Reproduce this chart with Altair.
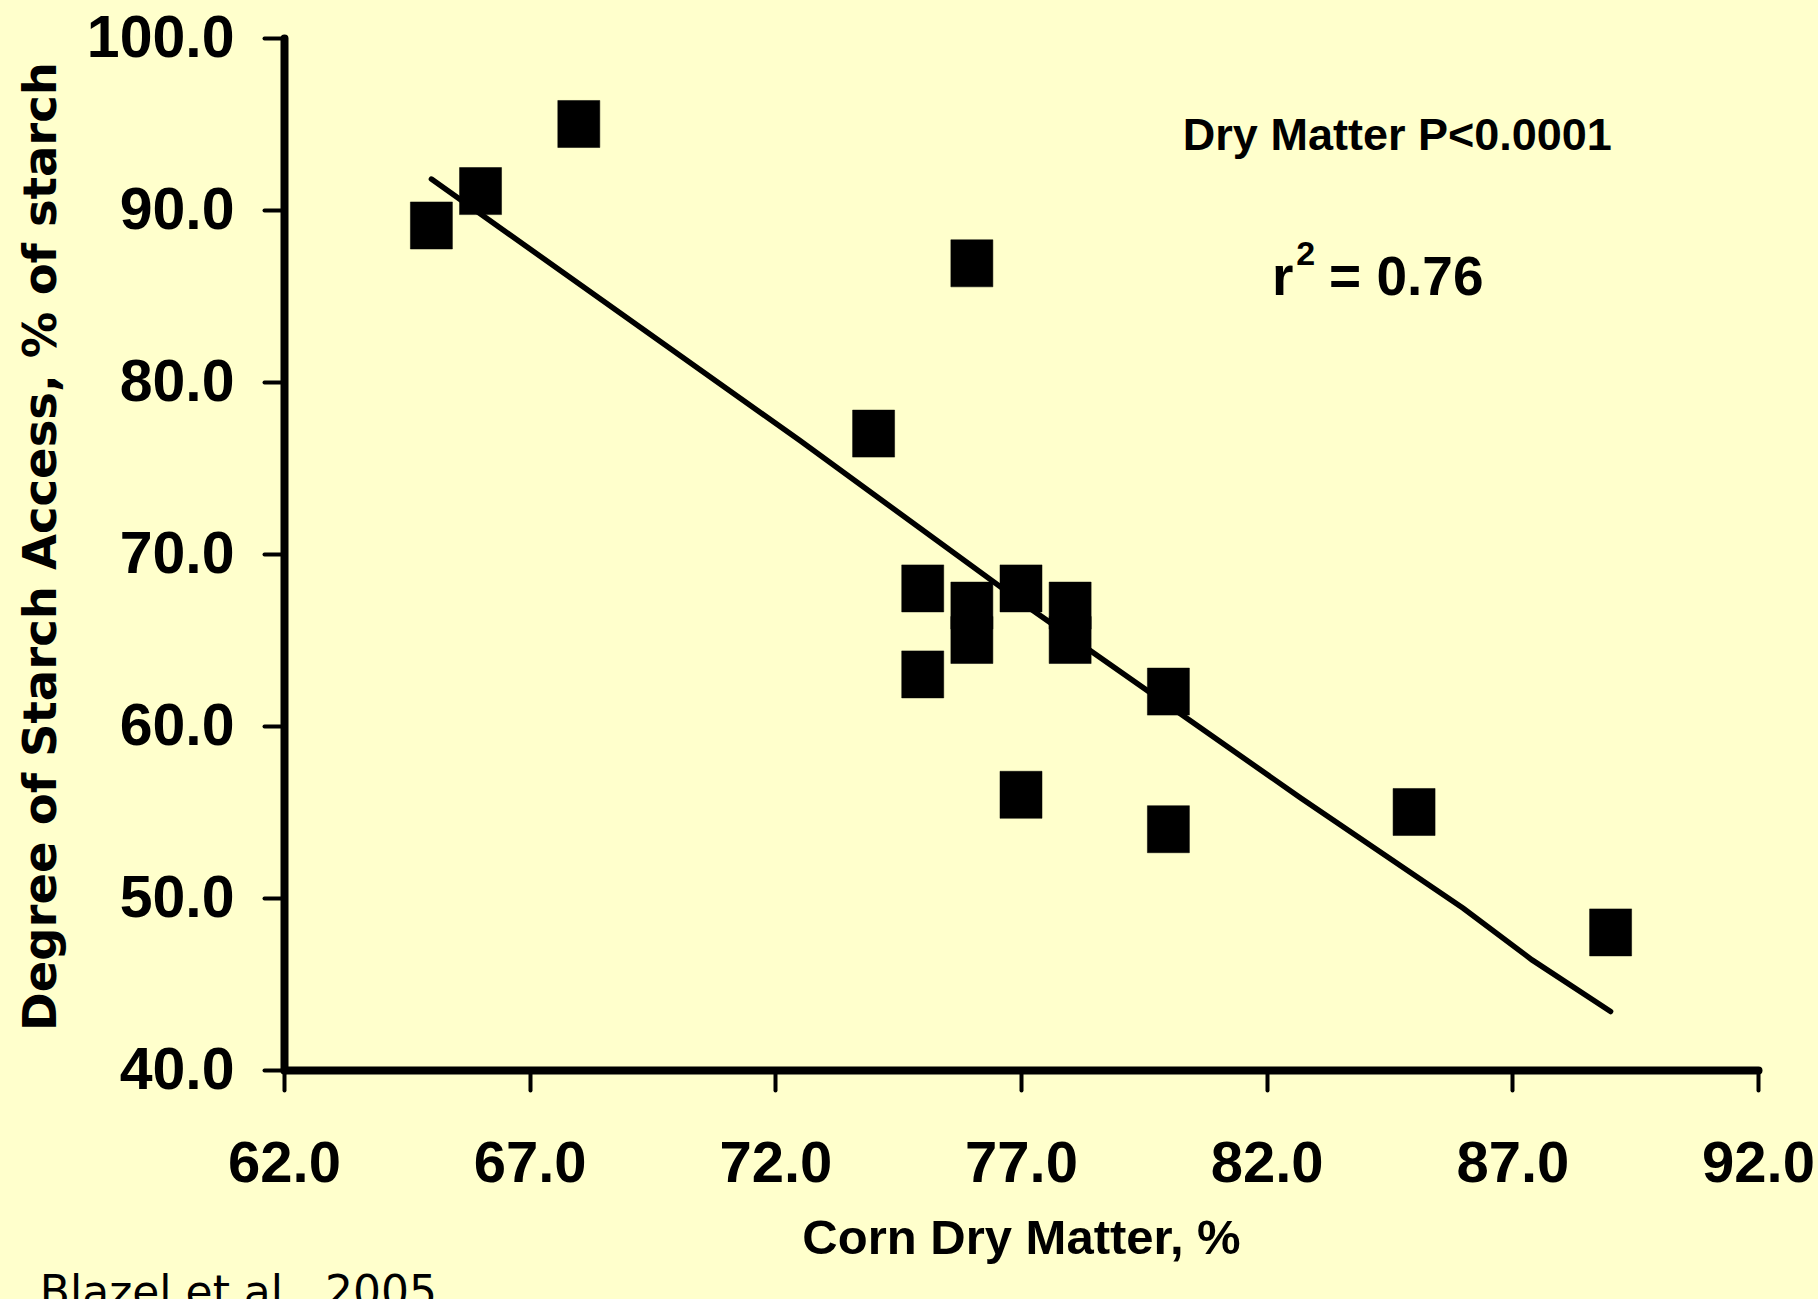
import altair as alt
import pandas as pd

# ---- data ----
dry_matter = [65, 66, 68, 76, 74, 75, 75, 76, 76, 77, 78, 78, 77, 80, 80, 85, 89]
starch_access = [89.1, 91.1, 95.0, 86.9, 77.0, 68.0, 63.0, 67.0, 65.0, 68.0,
                 67.0, 65.0, 56.0, 62.0, 54.0, 55.0, 48.0]

fit_x = [65.0, 72.5, 77.2, 82.7, 86.0, 87.4, 89.0]
fit_y = [91.8, 76.6, 66.8, 55.8, 49.4, 46.4, 43.4]

x_ticks = [62, 67, 72, 77, 82, 87, 92]
y_ticks = [40, 50, 60, 70, 80, 90, 100]

x_title = "Corn Dry Matter, %"
y_title = "Degree of Starch Access, % of starch"
p_text = "Dry Matter P<0.0001"
r_text, r_sup, r_val = "r", "2", "= 0.76"
cite_text = "Blazel et al., 2005"

BG = "#FFFFCC"
NARROW = "Liberation Sans Narrow, Arial Narrow, Liberation Sans, sans-serif"

pts = pd.DataFrame({"dm": dry_matter, "sa": starch_access})
fit = pd.DataFrame({"dm": fit_x, "sa": fit_y})

xs = alt.Scale(domain=[62, 92], nice=False, zero=False)
ys = alt.Scale(domain=[40, 100], nice=False, zero=False)

x_axis = alt.Axis(values=x_ticks, format=".1f", title=x_title, grid=False,
                  domainColor="black", domainWidth=8, domainCap="round",
                  tickColor="black", tickWidth=4, tickSize=20, tickCap="round",
                  labelFont=NARROW, labelFontWeight="bold", labelFontSize=58,
                  labelColor="black", labelPadding=45, labelFlush=False,
                  labelOverlap=False,
                  titleFont=NARROW, titleFontWeight="bold", titleFontSize=49,
                  titleColor="black", titleY=168, titleBaseline="middle")
y_axis = alt.Axis(values=y_ticks, format=".1f", title=y_title, grid=False,
                  domainColor="black", domainWidth=8, domainCap="round",
                  tickColor="black", tickWidth=4, tickSize=20, tickCap="round",
                  labelFont=NARROW, labelFontWeight="bold", labelFontSize=59,
                  labelColor="black", labelPadding=30, labelFlush=False,
                  labelOverlap=False,
                  titleFont="DejaVu Sans", titleFontWeight="bold", titleFontSize=46.5,
                  titleColor="black", titleX=-243, titleY=508, titleAngle=270,
                  titleAlign="center", titleBaseline="middle")

base = alt.Chart(pts)

points = base.mark_point(
    shape="M-1,-1.12L1,-1.12L1,1.12L-1,1.12Z", filled=True, fill="black",
    stroke="black", strokeWidth=0.5, opacity=1, size=1764
).encode(x=alt.X("dm:Q", scale=xs, axis=x_axis),
         y=alt.Y("sa:Q", scale=ys, axis=y_axis))

line = alt.Chart(fit).mark_line(color="black", strokeWidth=5.5, strokeCap="round").encode(
    x=alt.X("dm:Q", scale=xs), y=alt.Y("sa:Q", scale=ys))

def label(txt, xv, yv, size, font="Liberation Sans", weight="bold", align="left",
          baseline="alphabetic"):
    df = pd.DataFrame({"dm": [xv], "sa": [yv], "t": [txt]})
    return alt.Chart(df).mark_text(font=font, fontWeight=weight, fontSize=size,
                                   align=align, baseline=baseline, color="black").encode(
        x=alt.X("dm:Q", scale=xs), y=alt.Y("sa:Q", scale=ys), text="t:N")

ann_p = label(p_text, 84.66, 94.3, 45, align="center", baseline="middle")
ann_r = label(r_text, 82.11, 85.06, 55)
ann_sup = label(r_sup, 82.6, 86.8, 34)
ann_val = label(r_val, 83.27, 85.06, 55)
ann_cite = label(cite_text, 57.03, 26.25, 44, font="DejaVu Sans", weight="normal")

chart = alt.layer(line, points, ann_p, ann_r, ann_sup, ann_val, ann_cite).properties(
    width=1474, height=1032,
    padding={"left": 284, "top": 38, "right": 60, "bottom": 229},
    autosize=alt.AutoSizeParams(type="none"),
    background=BG,
).configure_view(stroke=None)

chart.save("out.html", embed_options={"renderer": "svg", "actions": False})
